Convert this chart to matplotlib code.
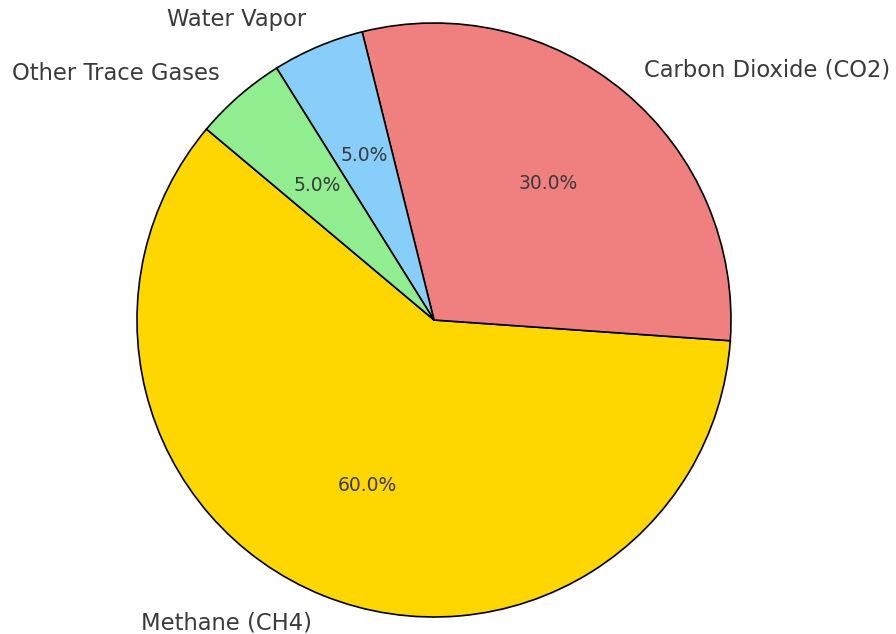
import matplotlib
matplotlib.use("Agg")
import matplotlib.pyplot as plt

# Greenhouse gas shares
labels = ["Methane (CH4)", "Carbon Dioxide (CO2)", "Water Vapor", "Other Trace Gases"]
shares = [60, 30, 5, 5]
colors = ["gold", "lightcoral", "lightskyblue", "lightgreen"]

fig = plt.figure(figsize=(8.96, 6.34), dpi=100)
ax = fig.add_axes([0, 0, 1, 1])

wedges, texts, autotexts = ax.pie(
    shares,
    labels=labels,
    colors=colors,
    autopct="%1.1f%%",
    startangle=140,
    wedgeprops={"edgecolor": "black", "linewidth": 1.2},
    textprops={"fontsize": 13.5, "color": "#3a3a3a"},
)
for t in texts:
    t.set_fontsize(16.3)
    t.set_color("#3a3a3a")

# place the pie: centre and radius in pixels of the canvas
cx, cy, r = 434, 634 - 320, 297
ax.set_xlim(-cx / r, (896 - cx) / r)
ax.set_ylim(-cy / r, (634 - cy) / r)
ax.set_aspect("auto")
ax.axis("off")

fig.savefig("out.png", dpi=100)
